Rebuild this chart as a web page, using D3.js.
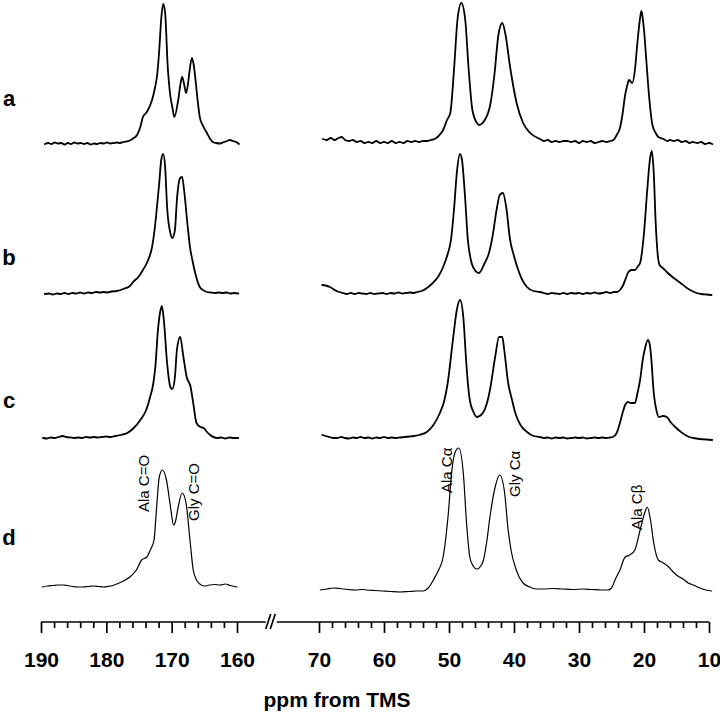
<!DOCTYPE html>
<html lang="en">
<head>
<meta charset="utf-8"/>
<style>
  body { margin: 0; background: #fff; }
  * { font-family: "Liberation Sans", Arial, Helvetica, sans-serif; }
  .trace { fill: none; stroke: #000; stroke-linejoin: round; stroke-linecap: round; }
  .axis line, .axisline { stroke: #000; stroke-width: 1.7; }
  .axis text { font-size: 21px; font-weight: bold; fill: #000; }
  .row-label { font-size: 22px; font-weight: bold; }
  .peak-label { font-size: 15px; }
  #xlabel { font-size: 21px; font-weight: bold; }
</style>
</head>
<body>
<svg id="chart" width="720" height="713"></svg>

<script src="https://cdnjs.cloudflare.com/ajax/libs/d3/7.8.5/d3.min.js"></script>
<script>
// spectra: [ppm, height]
let rows = ["a", "b", "c", "d"]

let aLeft = [[189.4,0],[188.9,1],[188.4,0],[187.9,1.5],[187.4,0.5],[186.9,1],[186.4,-0.5],[185.9,1],[185.4,0],[184.9,1.5],[184.4,0.5],[183.9,1],[183.4,0],[182.9,1],[182.4,-0.5],[181.9,0.5],[181.4,0],[180.9,1],[180.4,0.5],[179.9,1.5],[179.4,0.5],[178.9,1],[178.4,1.5],[177.9,1],[177.4,2],[176.6,3],[175.8,6],[175.3,9],[174.8,17],[174.4,27],[173.8,32],[173.0,44],[172.5,58],[172.2,70],[171.9,94],[171.6,125],[171.3,140],[171.0,131],[170.6,77],[170.2,48],[169.9,37],[169.6,27],[169.0,44],[168.6,62],[168.4,67],[168.1,60],[167.8,51],[167.5,60],[167.3,71],[166.9,86],[166.6,78],[166.3,61],[166.0,42],[165.7,27],[165.2,18],[164.6,11],[164.1,5],[163.7,2],[163.2,1],[162.6,0.5],[162.0,2],[161.5,3],[161.1,4],[160.6,3],[160.1,2],[159.7,0]]
let aRight = [[69.4,5],[68.8,4],[68.2,6],[67.6,4],[67.0,6],[66.5,7],[66.0,4],[65.4,3],[64.8,4],[64.2,2],[63.6,3],[63.0,1],[62.4,2],[61.8,1],[61.2,3],[60.6,1],[60.0,2],[59.4,1],[58.8,3],[58.2,1],[57.6,2],[57.0,1],[56.4,3],[55.8,2],[55.2,3],[54.6,2],[54.0,3],[53.4,3],[52.8,4],[52.2,5],[51.6,8],[50.9,14],[50.3,24],[49.8,31],[49.2,77],[48.7,124],[48.1,141],[47.5,124],[47.0,77],[46.4,34],[45.7,21],[45.4,19],[44.5,24],[43.6,41],[43.0,70],[42.4,109],[41.8,121],[41.3,109],[40.6,77],[39.6,41],[38.6,21],[37.5,11],[36.0,5],[35.4,3],[34.8,4],[34.2,2],[33.6,3],[33.0,2],[32.4,3],[31.8,3],[31.2,2],[30.6,3],[30.0,1],[29.4,3],[28.8,2],[28.2,3],[27.6,1],[27.0,2],[26.4,3],[25.8,2],[25.2,3],[24.7,4],[24.2,9],[23.7,16],[23.3,30],[22.9,49],[22.6,58],[22.3,64],[22.0,62],[21.8,61],[21.4,74],[21.1,95],[20.9,109],[20.6,126],[20.4,133],[20.2,126],[20.0,114],[19.6,80],[19.3,54],[18.7,19],[18.2,11],[17.8,7],[17.0,5],[16.4,3],[16.0,4],[15.4,3],[14.8,4],[14.2,2],[13.6,3],[13.0,1],[12.5,2],[11.8,1],[11.2,2],[10.6,0],[10.0,1],[9.5,0]]

let bLeft = [[189.4,0],[188.8,0.5],[188.2,-0.5],[187.6,0.5],[187.0,0],[186.4,1],[185.8,0],[185.2,1],[184.6,0.5],[184.0,1.5],[183.4,0.5],[182.8,1.5],[182.2,1],[181.6,2],[181.0,1.5],[180.4,2],[179.8,1.5],[179.2,2.5],[178.4,3],[177.4,5],[176.4,8],[175.9,12],[175.1,17],[174.4,24],[173.6,34],[173.0,47],[172.6,65],[172.4,77],[171.9,111],[171.6,134],[171.3,140],[171.0,127],[170.7,87],[170.2,61],[169.9,56],[169.5,64],[169.2,94],[168.7,116],[168.4,117],[168.1,104],[167.6,71],[167.2,47],[166.8,33],[166.4,21],[165.7,7],[165.2,4],[164.6,2],[164.0,1.5],[163.4,1],[162.8,1.5],[162.2,1],[161.6,1.5],[161.0,0.5],[160.4,1],[159.8,0.5]]
let bRight = [[69.5,9],[69.0,8.5],[68.3,7],[67.6,4],[66.9,2],[66.3,1],[65.7,0],[65.1,1],[64.5,0],[63.9,1],[63.3,0.5],[62.7,0],[62.1,1],[61.5,0],[60.9,0.5],[60.2,1],[59.6,0],[59.0,1],[58.4,0.5],[57.8,1.5],[57.2,0.5],[56.6,1],[56.0,1.5],[55.4,1],[54.9,2],[54.2,3],[53.4,6],[52.5,11],[51.6,18],[50.9,27],[50.2,40],[49.7,54],[49.2,87],[48.8,121],[48.3,140],[48.0,134],[47.5,94],[47.1,54],[46.7,36],[46.3,27],[45.4,21],[44.5,31],[43.9,40],[43.4,54],[42.6,87],[42.2,99],[41.7,101],[41.2,87],[40.6,54],[40.0,38],[39.5,27],[38.8,15],[38.0,7],[37.0,3],[36.0,2],[35.4,1],[34.8,0],[34.2,1],[33.6,0.5],[33.0,0],[32.4,1],[31.8,0],[31.2,1],[30.6,0.5],[30.0,1],[29.4,0],[28.8,1],[28.2,0.5],[27.6,1.5],[27.0,0.5],[26.4,1],[25.8,2],[25.2,1],[24.6,2],[24.2,2],[23.7,4],[23.2,9],[22.9,14],[22.4,22],[21.9,24],[21.4,24],[20.9,28],[20.6,31],[20.0,61],[19.5,104],[19.1,134],[18.8,143],[18.5,121],[18.2,71],[17.9,40],[17.6,29],[17.1,26],[16.5,22],[15.8,18],[15.0,14],[14.2,10],[13.4,6],[12.6,3],[11.9,1],[11.2,0],[10.4,-0.5],[9.6,-1]]

let cLeft = [[189.7,0],[189.1,-0.5],[188.5,0.5],[187.9,0],[187.3,1],[186.7,2],[186.1,1],[185.5,0.5],[184.9,0],[184.3,0.5],[183.7,0],[183.1,1],[182.5,0.5],[181.9,1],[181.3,0.5],[180.7,1],[180.1,1.5],[179.4,1],[178.6,2],[177.8,3],[176.8,5],[175.8,10],[174.8,18],[173.9,28],[173.3,41],[172.8,55],[172.5,71],[172.1,108],[171.7,128],[171.5,132],[171.2,118],[170.7,75],[170.2,51],[169.9,49],[169.5,61],[169.2,88],[168.7,101],[168.2,81],[167.7,61],[167.1,51],[166.7,35],[166.2,15],[165.6,11],[165.1,10],[164.6,6],[164.1,3],[163.1,0],[162.4,0.5],[161.8,-0.5],[161.2,0.5],[160.5,0],[159.8,0]]
let cRight = [[69.5,3],[69.0,2],[68.4,1],[67.8,0],[67.2,0],[66.6,1],[66.0,0],[65.4,-0.5],[64.8,0.5],[64.2,0],[63.6,1],[63.0,0],[62.4,0.5],[61.8,-0.5],[61.2,0.5],[60.6,0],[60.0,1],[59.4,0],[58.8,0.5],[58.2,0],[57.5,0.5],[56.8,1],[56.1,1.5],[55.4,2],[54.6,3],[53.4,6],[52.4,13],[51.4,25],[50.7,38],[50.2,55],[49.4,98],[48.8,128],[48.3,138],[47.8,121],[47.4,81],[47.1,55],[46.8,38],[46.3,27],[45.7,21],[44.8,25],[44.2,34],[43.7,48],[42.9,81],[42.3,101],[41.8,101],[41.5,88],[40.9,55],[40.3,38],[39.8,25],[39.0,13],[38.0,6],[37.0,2],[36.0,1],[35.4,0],[34.8,0.5],[34.2,-0.5],[33.6,0.5],[33.0,0],[32.4,0.5],[31.8,-0.5],[31.2,0],[30.6,0.5],[30.0,0],[29.4,0.5],[28.8,-0.5],[28.2,0],[27.6,0.5],[27.0,0],[26.4,0.5],[25.8,0],[25.2,0.5],[24.8,1],[24.2,5],[23.7,15],[23.3,25],[22.9,33],[22.5,36],[22.0,35],[21.4,35],[21.0,45],[20.6,58],[20.2,78],[19.8,91],[19.4,98],[19.1,93],[18.9,81],[18.5,45],[18.1,28],[17.7,21],[17.1,22],[16.5,21],[15.8,15],[15.2,11],[14.3,6],[13.4,2],[12.4,0],[11.4,-1],[10.4,-1.5],[9.5,-2]]

let dLeft = [[189.8,0],[189.0,1],[188.2,1.5],[187.4,2],[186.6,2],[186.0,1.5],[185.2,0.5],[184.4,0],[183.6,0],[182.8,0.5],[182.0,1],[181.2,0.5],[180.5,0],[179.8,0.5],[179.0,1.5],[178.4,3],[177.4,6],[176.4,10],[175.4,17],[174.6,27],[173.8,30],[173.2,38],[172.7,47],[172.3,80],[171.9,110],[171.4,117],[170.8,107],[170.2,81],[169.7,62],[169.4,66],[169.0,80],[168.4,94],[167.8,84],[167.2,47],[166.7,17],[166.2,7],[165.7,3],[165.0,1],[164.2,2],[163.4,2.5],[162.6,2],[161.8,3],[161.0,1.5],[160.0,0]]
let dRight = [[69.8,-3],[68.8,-2],[67.8,-1],[66.8,-1.5],[65.6,-2.5],[64.4,-3],[63.4,-2.5],[62.6,-3],[61.4,-3.5],[60.2,-4],[59.0,-4.5],[57.5,-5],[56.2,-4.5],[55.0,-4],[54.0,-4],[53.2,-1],[52.4,7],[51.6,17],[50.9,30],[50.1,74],[49.6,114],[49.1,134],[48.5,139],[47.8,114],[47.3,64],[46.8,30],[46.3,21],[45.7,18],[45.1,21],[44.7,27],[44.2,45],[43.7,70],[42.9,100],[42.2,112],[41.5,97],[40.9,57],[40.4,35],[39.8,20],[39.2,10],[38.6,4],[37.6,0],[36.6,-2],[35.4,-2],[34.0,-1.5],[32.5,-2],[31.0,-2.5],[29.4,-2],[28.0,-2.5],[26.6,-3],[25.6,-3],[25.0,-1],[24.4,8],[23.7,17],[22.9,30],[22.2,32],[21.4,37],[20.6,57],[19.8,76],[19.5,80],[19.0,67],[18.5,44],[17.8,27],[17.0,24],[16.2,20],[15.5,15],[14.8,11],[14.0,8],[13.2,4],[12.4,2],[11.4,-1],[10.5,-3],[9.6,-4]]

let leftSeries = [aLeft, bLeft, cLeft, dLeft]
let rightSeries = [aRight, bRight, cRight, dRight]

let leftTicks = [190, 180, 170, 160]
let rightTicks = [70, 60, 50, 40, 30, 20, 10]
let xTitle = "ppm from TMS"

// peak assignments on trace d: [text, ppm, height]
let peakText = ["Ala C=O", "Gly C=O", "Ala C\u03b1", "Gly C\u03b1", "Ala C\u03b2"]
let peakPpm = [173.5, 165.8, 49.5, 39.1, 20.3]
let peakHeight = [75, 66, 94, 90, 57]

let svg = d3.select("#chart")
let rowBase = [144, 294, 438, 587]
let labelDy = [-38, -29, -30, -42]
let strokeW = [1.8, 1.8, 1.8, 1.2]
let axisY = 622

let xLeft = d3.scaleLinear().domain([190, 160]).range([41, 237])
let xRight = d3.scaleLinear().domain([70, 10]).range([319, 709])

rows.forEach((r, i) => {
	let y = d3.scaleLinear().domain([0, 140]).range([rowBase[i], rowBase[i] - 140])
	let lineL = d3.line().x(d => xLeft(d[0])).y(d => y(d[1])).curve(d3.curveMonotoneX)
	let lineR = d3.line().x(d => xRight(d[0])).y(d => y(d[1])).curve(d3.curveMonotoneX)

	svg.append("path").attr("class", "trace").attr("stroke-width", strokeW[i]).attr("d", lineL(leftSeries[i]))
	svg.append("path").attr("class", "trace").attr("stroke-width", strokeW[i]).attr("d", lineR(rightSeries[i]))

	svg.append("text")
		.attr("class", "row-label")
		.attr("x", 9)
		.attr("y", rowBase[i] + labelDy[i])
		.attr("text-anchor", "middle")
		.text(r)

	if (r === "d") {
		peakText.forEach((t, k) => {
			let px = k < 2 ? xLeft(peakPpm[k]) : xRight(peakPpm[k])
			let py = y(peakHeight[k])
			svg.append("text")
				.attr("class", "peak-label")
				.attr("transform", "translate(" + px + "," + py + ") rotate(-90)")
				.text(t)
		})
	}
})

// broken x axis
let minorLeft = d3.range(190, 159, -2).filter(v => leftTicks.indexOf(v) < 0)
let minorRight = d3.range(70, 9, -2).filter(v => rightTicks.indexOf(v) < 0)

function drawAxis(scale, majors, minors) {
	let g = svg.append("g").attr("class", "axis").attr("transform", "translate(0," + axisY + ")")
	g.append("g").call(d3.axisBottom(scale).tickValues(minors).tickSize(6).tickFormat(""))
	g.append("g").call(d3.axisBottom(scale).tickValues(majors).tickSize(11).tickFormat(d3.format("d")))
	g.selectAll(".domain").remove()
	g.selectAll("text").attr("y", 45).attr("dy", null)
}
drawAxis(xLeft, leftTicks, minorLeft)
drawAxis(xRight, rightTicks, minorRight)

let breakL = xLeft(155.6), breakR = xRight(76.5)
svg.append("line").attr("class", "axisline")
	.attr("x1", xLeft(190)).attr("x2", breakL).attr("y1", axisY).attr("y2", axisY)
svg.append("line").attr("class", "axisline")
	.attr("x1", breakR).attr("x2", xRight(10)).attr("y1", axisY).attr("y2", axisY)
;[0, 4.5].forEach(off => {
	svg.append("line").attr("class", "axisline")
		.attr("x1", breakL + off).attr("y1", axisY + 7)
		.attr("x2", breakL + off + 5).attr("y2", axisY - 8)
})

svg.append("text")
	.attr("id", "xlabel")
	.attr("x", 337)
	.attr("y", 707)
	.attr("text-anchor", "middle")
	.text(xTitle)
</script>
</body>
</html>
